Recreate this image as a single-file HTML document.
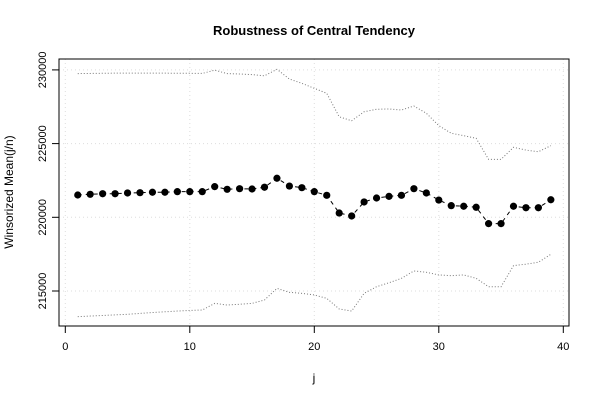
<!DOCTYPE html>
<html><head><meta charset="utf-8"><style>body{margin:0;background:#fff}svg{display:block;font-family:"Liberation Sans",sans-serif}</style></head>
<body>
<svg id="chart" width="600" height="400" viewBox="0 0 600 400">
<rect width="600" height="400" fill="#fff"/>
<text x="314" y="35" text-anchor="middle" font-size="13" font-weight="bold">Robustness of Central Tendency</text>
<text x="314" y="382" text-anchor="middle" font-size="12">j</text>
<text transform="translate(13,192) rotate(-90)" text-anchor="middle" font-size="12">Winsorized Mean(j/n)</text>
<g id="grid"></g><g id="axes"></g><g id="series"></g>
<rect x="59" y="59" width="510" height="267" fill="none" stroke="#000"/>
</svg>
<script>
const js=[1,2,3,4,5,6,7,8,9,10,11,12,13,14,15,16,17,18,19,20,21,22,23,24,25,26,27,28,29,30,31,32,33,34,35,36,37,38,39];
const means=[221513,221560,221600,221600,221650,221670,221700,221700,221740,221740,221740,222080,221900,221940,221920,222040,222650,222120,222010,221740,221490,220290,220090,221040,221310,221420,221490,221940,221650,221170,220790,220750,220680,219570,219570,220750,220650,220650,221190];
const upper=[229750,229760,229770,229780,229780,229780,229780,229780,229770,229770,229760,229980,229750,229720,229680,229600,230040,229380,229090,228750,228410,226820,226550,227160,227330,227350,227280,227550,227060,226220,225700,225540,225360,223930,223930,224750,224560,224450,224860];
const lower=[213260,213300,213340,213380,213420,213480,213540,213590,213640,213680,213710,214160,214050,214100,214160,214390,215180,214910,214840,214730,214500,213780,213640,214840,215290,215560,215860,216360,216270,216090,216040,216090,215860,215290,215290,216720,216820,216950,217490];
const xTicks=[0,10,20,30,40];
const yTicks=[215000,220000,225000,230000];
const NS="http://www.w3.org/2000/svg";
const X=v=>65.3+v*12.45;
const Y=v=>217.3-(v-220000)*0.01474;
function mk(t,a,p){const e=document.createElementNS(NS,t);for(const k in a)e.setAttribute(k,a[k]);document.getElementById(p).appendChild(e);return e;}
xTicks.forEach(t=>{
const g=mk('line',{x1:X(t),x2:X(t),y1:59,y2:326,stroke:'#ddd','stroke-dasharray':'1,3'},'grid');


const l=mk('line',{x1:X(t),x2:X(t),y1:326,y2:333,stroke:'#000'},'axes');


const tx=mk('text',{x:X(t),y:350,'text-anchor':'middle','font-size':'11'},'axes');tx.textContent=t;


});
yTicks.forEach(t=>{
const g=mk('line',{x1:59,x2:569,y1:Y(t),y2:Y(t),stroke:'#ddd','stroke-dasharray':'1,3'},'grid');


const l=mk('line',{x1:52,x2:59,y1:Y(t),y2:Y(t),stroke:'#000'},'axes');


const tx=mk('text',{x:0,y:0,'text-anchor':'middle','font-size':'11',transform:`translate(46,${Y(t)}) rotate(-90)`},'axes');tx.textContent=t;


});
function line(arr,name,dash,col){
const p=mk('polyline',{points:arr.map((v,i)=>X(js[i])+','+Y(v)).join(' '),fill:'none',stroke:col,'stroke-dasharray':dash},'series');


}
line(upper,'upper-bound-line','1,2','#777');
line(lower,'lower-bound-line','1,2','#777');
line(means,'mean-line','4,4','#000');
means.forEach((v,i)=>{
const c=mk('circle',{cx:X(js[i]),cy:Y(v),r:3.6,fill:'#000'},'series');


});
</script>
</body></html>
